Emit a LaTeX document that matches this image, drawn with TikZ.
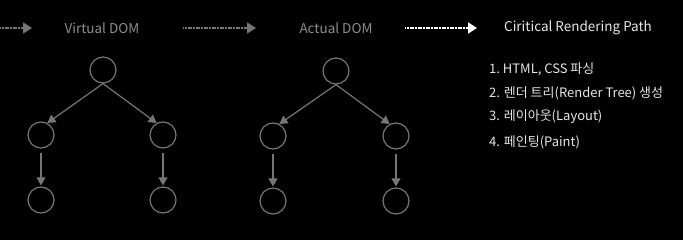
\documentclass[tikz,border=0pt]{standalone}
\usepackage{fontspec}
\setmainfont{Noto Sans CJK KR}
\usetikzlibrary{arrows.meta}
\definecolor{domGray}{HTML}{767676}
\definecolor{labelGray}{HTML}{8C8C8C}
\definecolor{listWhite}{HTML}{E6E6E6}
\begin{document}
\begin{tikzpicture}[x=1pt, y=-1pt,
    nodeStyle/.style={circle, draw=domGray, line width=1.2pt, minimum size=26pt, inner sep=0pt},
    edgeStyle/.style={-{Triangle[length=8pt, width=9pt]}, draw=domGray, line width=1.2pt},
    stepStyle/.style={-{Triangle[length=9pt, width=11pt]}, line width=1.6pt, dash pattern=on 1.2pt off 0.4pt},
    titleStyle/.style={font=\fontsize{13.5}{16}\selectfont, inner sep=0pt},
    itemStyle/.style={font=\fontsize{13}{15}\selectfont, text=listWhite, anchor=west, inner sep=0pt}]
    \fill[black] (0,0) rectangle (683,240);
    \useasboundingbox (0,0) rectangle (683,240);

    % titles
    \node[titleStyle, text=labelGray] (virt_T) at (102, 28) {Virtual DOM};
    \node[titleStyle, text=labelGray] (act_T)  at (336, 28) {Actual DOM};
    \node[titleStyle, text=listWhite] (crp_T)  at (578, 28) {Ciritical Rendering Path};

    \coordinate (in_S) at (0, 28);
    \coordinate (in_E) at (32, 28);
    \coordinate (mid_S) at (183, 28);
    \coordinate (mid_E) at (256, 28);
    \coordinate (out_S) at (405, 28);
    \coordinate (out_E) at (477, 28);
    \draw[stepStyle, draw=domGray, fill=domGray] (in_S) -- (in_E);
    \draw[stepStyle, draw=domGray, fill=domGray] (mid_S) -- (mid_E);
    \draw[stepStyle, draw=white, fill=white] (out_S) -- (out_E);

    % virtual DOM tree
    \node[nodeStyle] (virt_0)  at (103,  70) {};
    \node[nodeStyle] (virt_1)  at ( 41, 135) {};
    \node[nodeStyle] (virt_2)  at (163, 135) {};
    \node[nodeStyle] (virt_11) at ( 41, 200) {};
    \node[nodeStyle] (virt_21) at (163, 200) {};

    % actual DOM tree
    \node[nodeStyle] (act_0)  at (336,  71) {};
    \node[nodeStyle] (act_1)  at (273, 136) {};
    \node[nodeStyle] (act_2)  at (396, 136) {};
    \node[nodeStyle] (act_11) at (273, 201) {};
    \node[nodeStyle] (act_21) at (396, 201) {};

    \foreach \t in {virt, act} {
        \draw[edgeStyle] (\t_0.south) -- (\t_1.62);
        \draw[edgeStyle] (\t_0.south) -- (\t_2.118);
        \draw[edgeStyle, shorten <=4pt, shorten >=1pt] (\t_1.south) -- (\t_11.north);
        \draw[edgeStyle, shorten <=4pt, shorten >=1pt] (\t_2.south) -- (\t_21.north);
    }

    % steps
    \node[itemStyle] (step_1) at (489,  69) {1.\ HTML, CSS 파싱};
    \node[itemStyle] (step_2) at (489,  93) {2. 렌더 트리(Render Tree) 생성};
    \node[itemStyle] (step_3) at (489, 117) {3. 레이아웃(Layout)};
    \node[itemStyle] (step_4) at (489, 142) {4. 페인팅(Paint)};
\end{tikzpicture}
\end{document}
